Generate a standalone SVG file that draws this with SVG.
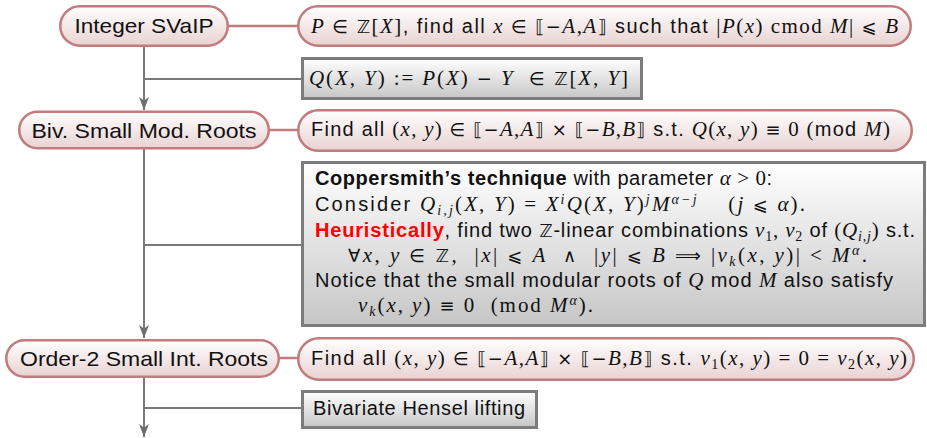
<svg xmlns="http://www.w3.org/2000/svg" width="927" height="438" viewBox="0 0 927 438">
<defs>
<linearGradient id="pinkFill" x1="0" y1="0" x2="0" y2="1">
<stop offset="0" stop-color="#ffffff"/>
<stop offset="1" stop-color="#e9d2d2"/>
</linearGradient>
<linearGradient id="grayFill" x1="0" y1="0" x2="0" y2="1">
<stop offset="0" stop-color="#ffffff"/>
<stop offset="1" stop-color="#c6c6c6"/>
</linearGradient>
<marker id="arr" markerUnits="userSpaceOnUse" viewBox="0 0 13 10" refX="13" refY="5" markerWidth="13" markerHeight="10" orient="auto">
<path d="M0,0 L13,5 L0,10 L3.5,5 Z" fill="#6e6e6e"/>
</marker>
</defs>
<style>
.pill { fill: url(#pinkFill); stroke: #c07c7c; stroke-width: 2.5; }
.box { fill: url(#grayFill); stroke: #7c7c7c; stroke-width: 3; }
.link { stroke: #c07c7c; stroke-width: 2.5; fill: none; }
.flow { stroke: #7a7a7a; stroke-width: 2; fill: none; }
.nt { font-family: "Liberation Sans", "DejaVu Sans", sans-serif; font-size: 21px; fill: #111; text-anchor: middle; }
.t { font-family: "Liberation Sans", "DejaVu Sans", sans-serif; font-size: 20px; fill: #111; }
.m { font-family: "Liberation Serif", serif; font-style: italic; font-size: 21px; }
.r { font-family: "Liberation Serif", serif; font-style: normal; font-size: 21px; }
.s { font-family: "DejaVu Sans", sans-serif; font-style: normal; font-size: 18px; }
.sb { font-size: 14px; }
.b { font-weight: bold; }
.red { fill: #ff0000; font-weight: bold; }
</style>
<rect width="927" height="438" fill="#ffffff"/>

<g id="connectors">
<line class="link" x1="229" y1="26" x2="298" y2="26"/>
<line class="link" x1="269" y1="130" x2="298" y2="130"/>
<line class="link" x1="279" y1="358" x2="298" y2="358"/>
<line class="flow" x1="144" y1="47" x2="144" y2="110" marker-end="url(#arr)"/>
<line class="flow" x1="144" y1="79" x2="302" y2="79"/>
<line class="flow" x1="144" y1="149" x2="144" y2="338" marker-end="url(#arr)"/>
<line class="flow" x1="144" y1="245" x2="302" y2="245"/>
<line class="flow" x1="144" y1="378" x2="144" y2="437" marker-end="url(#arr)"/>
<line class="flow" x1="144" y1="408" x2="302" y2="408"/>
</g>

<g id="node-svalp">
<rect class="pill" x="60.25" y="6.25" width="167.5" height="39.5" rx="19.75"/>
<text class="nt" x="144" y="33" textLength="139" lengthAdjust="spacingAndGlyphs">Integer SVaIP</text>
</g>

<g id="desc-svalp">
<rect class="pill" x="298.25" y="6.25" width="612.5" height="39.5" rx="19.75"/>
<text class="t" x="311" y="33" textLength="587"><tspan class="m">P</tspan> <tspan class="s">∈ ℤ</tspan><tspan class="r">[</tspan><tspan class="m">X</tspan><tspan class="r">]</tspan>, find all <tspan class="m">x</tspan> <tspan class="s">∈ ⟦−</tspan><tspan class="m">A</tspan><tspan class="r">,</tspan><tspan class="m">A</tspan><tspan class="s">⟧</tspan> such that <tspan class="r">|</tspan><tspan class="m">P</tspan><tspan class="r">(</tspan><tspan class="m">x</tspan><tspan class="r">) cmod </tspan><tspan class="m">M</tspan><tspan class="r">|</tspan> <tspan class="s">⩽</tspan> <tspan class="m">B</tspan></text>
</g>

<g id="box-q">
<rect class="box" x="302.5" y="58.5" width="339" height="40"/>
<text class="t" x="309" y="85" textLength="319"><tspan class="m">Q</tspan><tspan class="r">(</tspan><tspan class="m">X</tspan><tspan class="r">, </tspan><tspan class="m">Y</tspan><tspan class="r">) := </tspan><tspan class="m">P</tspan><tspan class="r">(</tspan><tspan class="m">X</tspan><tspan class="r">) </tspan><tspan class="s">−</tspan><tspan class="r"> </tspan><tspan class="m">Y</tspan><tspan class="r">&#160;&#160;</tspan><tspan class="s">∈ ℤ</tspan><tspan class="r">[</tspan><tspan class="m">X</tspan><tspan class="r">, </tspan><tspan class="m">Y</tspan><tspan class="r">]</tspan></text>
</g>

<g id="node-bivmod">
<rect class="pill" x="19.25" y="111.75" width="249.5" height="36.5" rx="18.25"/>
<text class="nt" x="144" y="138" textLength="225" lengthAdjust="spacingAndGlyphs">Biv. Small Mod. Roots</text>
</g>

<g id="desc-bivmod">
<rect class="pill" x="298.25" y="110.25" width="613.5" height="40.5" rx="20.25"/>
<text class="t" x="311" y="136" textLength="579">Find all <tspan class="r">(</tspan><tspan class="m">x</tspan><tspan class="r">, </tspan><tspan class="m">y</tspan><tspan class="r">) </tspan><tspan class="s">∈ ⟦−</tspan><tspan class="m">A</tspan><tspan class="r">,</tspan><tspan class="m">A</tspan><tspan class="s">⟧ × ⟦−</tspan><tspan class="m">B</tspan><tspan class="r">,</tspan><tspan class="m">B</tspan><tspan class="s">⟧</tspan> s.t. <tspan class="m">Q</tspan><tspan class="r">(</tspan><tspan class="m">x</tspan><tspan class="r">, </tspan><tspan class="m">y</tspan><tspan class="r">) </tspan><tspan class="s">≡</tspan><tspan class="r"> 0 (</tspan>mod <tspan class="m">M</tspan><tspan class="r">)</tspan></text>
</g>

<g id="box-coppersmith">
<rect class="box" x="302.5" y="162.5" width="622" height="163"/>
<text class="t" x="315" y="185" textLength="457"><tspan class="b">Coppersmith’s technique</tspan> with parameter <tspan class="m">α</tspan><tspan class="r"> &gt; 0</tspan>:</text>
<text class="t" x="315" y="211" textLength="490">Consider <tspan class="m">Q</tspan><tspan class="m sb" baseline-shift="-4">i,j</tspan><tspan class="r">(</tspan><tspan class="m">X</tspan><tspan class="r">, </tspan><tspan class="m">Y</tspan><tspan class="r">) = </tspan><tspan class="m">X</tspan><tspan class="m sb" baseline-shift="7">i</tspan><tspan class="m">Q</tspan><tspan class="r">(</tspan><tspan class="m">X</tspan><tspan class="r">, </tspan><tspan class="m">Y</tspan><tspan class="r">)</tspan><tspan class="m sb" baseline-shift="7">j</tspan><tspan class="m">M</tspan><tspan class="m sb" baseline-shift="7">α−j</tspan><tspan class="r">&#160;&#160;&#160;&#160;(</tspan><tspan class="m">j</tspan><tspan class="r"> </tspan><tspan class="s">⩽</tspan><tspan class="r"> </tspan><tspan class="m">α</tspan><tspan class="r">).</tspan></text>
<text class="t" x="315" y="237" textLength="600"><tspan class="red">Heuristically</tspan>, find two <tspan class="s">ℤ</tspan>-linear combinations <tspan class="m">v</tspan><tspan class="r sb" baseline-shift="-4">1</tspan><tspan class="r">, </tspan><tspan class="m">v</tspan><tspan class="r sb" baseline-shift="-4">2</tspan> of <tspan class="r">(</tspan><tspan class="m">Q</tspan><tspan class="m sb" baseline-shift="-4">i,j</tspan><tspan class="r">)</tspan> s.t.</text>
<text class="t" x="348" y="262" textLength="519"><tspan class="s">∀</tspan><tspan class="m">x</tspan><tspan class="r">, </tspan><tspan class="m">y</tspan><tspan class="r"> </tspan><tspan class="s">∈ ℤ</tspan><tspan class="r">,&#160;&#160;|</tspan><tspan class="m">x</tspan><tspan class="r">| </tspan><tspan class="s">⩽</tspan><tspan class="r"> </tspan><tspan class="m">A</tspan><tspan class="r">&#160;&#160;</tspan><tspan class="s">∧</tspan><tspan class="r">&#160;&#160;|</tspan><tspan class="m">y</tspan><tspan class="r">| </tspan><tspan class="s">⩽</tspan><tspan class="r"> </tspan><tspan class="m">B</tspan><tspan class="r"> </tspan><tspan class="s">⟹</tspan><tspan class="r"> |</tspan><tspan class="m">v</tspan><tspan class="m sb" baseline-shift="-4">k</tspan><tspan class="r">(</tspan><tspan class="m">x</tspan><tspan class="r">, </tspan><tspan class="m">y</tspan><tspan class="r">)| &lt; </tspan><tspan class="m">M</tspan><tspan class="m sb" baseline-shift="7">α</tspan><tspan class="r">.</tspan></text>
<text class="t" x="315" y="287" textLength="578">Notice that the small modular roots of <tspan class="m">Q</tspan> mod <tspan class="m">M</tspan> also satisfy</text>
<text class="t" x="358" y="312" textLength="235"><tspan class="m">v</tspan><tspan class="m sb" baseline-shift="-4">k</tspan><tspan class="r">(</tspan><tspan class="m">x</tspan><tspan class="r">, </tspan><tspan class="m">y</tspan><tspan class="r">) </tspan><tspan class="s">≡</tspan><tspan class="r"> 0&#160;&#160;(mod </tspan><tspan class="m">M</tspan><tspan class="m sb" baseline-shift="7">α</tspan><tspan class="r">).</tspan></text>
</g>

<g id="node-order2">
<rect class="pill" x="6.25" y="340.25" width="272.5" height="36.5" rx="18.25"/>
<text class="nt" x="144" y="366" textLength="248" lengthAdjust="spacingAndGlyphs">Order-2 Small Int. Roots</text>
</g>

<g id="desc-order2">
<rect class="pill" x="298.25" y="338.25" width="615.5" height="41.5" rx="20.75"/>
<text class="t" x="311" y="365" textLength="596">Find all <tspan class="r">(</tspan><tspan class="m">x</tspan><tspan class="r">, </tspan><tspan class="m">y</tspan><tspan class="r">) </tspan><tspan class="s">∈ ⟦−</tspan><tspan class="m">A</tspan><tspan class="r">,</tspan><tspan class="m">A</tspan><tspan class="s">⟧ × ⟦−</tspan><tspan class="m">B</tspan><tspan class="r">,</tspan><tspan class="m">B</tspan><tspan class="s">⟧</tspan> s.t. <tspan class="m">v</tspan><tspan class="r sb" baseline-shift="-4">1</tspan><tspan class="r">(</tspan><tspan class="m">x</tspan><tspan class="r">, </tspan><tspan class="m">y</tspan><tspan class="r">) = 0 = </tspan><tspan class="m">v</tspan><tspan class="r sb" baseline-shift="-4">2</tspan><tspan class="r">(</tspan><tspan class="m">x</tspan><tspan class="r">, </tspan><tspan class="m">y</tspan><tspan class="r">)</tspan></text>
</g>

<g id="box-hensel">
<rect class="box" x="302.5" y="391.5" width="234" height="36"/>
<text class="t" x="313" y="415" textLength="212">Bivariate Hensel lifting</text>
</g>
</svg>
